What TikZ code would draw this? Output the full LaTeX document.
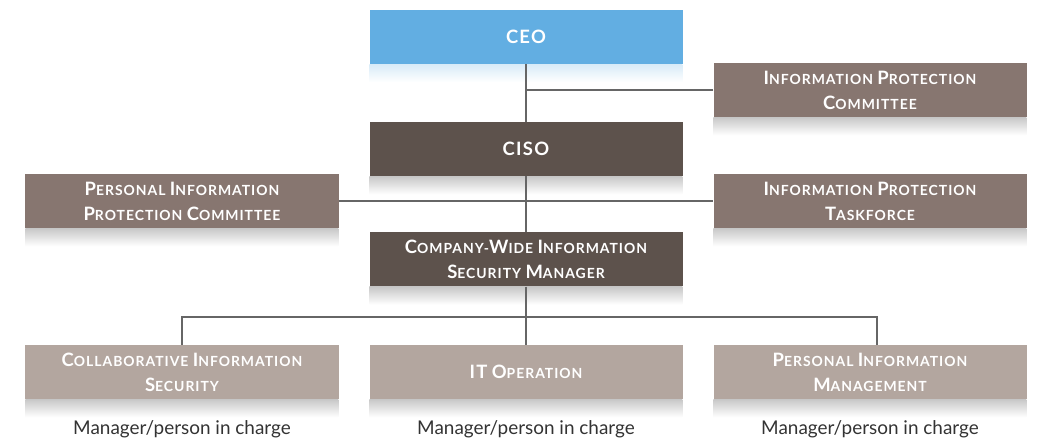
\documentclass[tikz,border=0pt]{standalone}
\usepackage{fontspec}
\setmainfont{Lato}
\usetikzlibrary{positioning}
\definecolor{ceoblue}{HTML}{62AEE2}
\definecolor{darkbrown}{HTML}{5D524C}
\definecolor{midbrown}{HTML}{877670}
\definecolor{lightbrown}{HTML}{B3A69F}
\definecolor{linegray}{HTML}{666666}
% fake small caps: big initial, small rest
\newcommand\scw[2]{{\fontsize{18.5}{25}\selectfont #1}#2}

\tikzset{
  orgbox/.style={rectangle, minimum width=313bp, minimum height=54bp, inner sep=0pt,
    text=white, align=center,
    font=\fontsize{14}{25}\selectfont\bfseries\addfontfeature{LetterSpace=7}},
  note/.style={font=\fontsize{19}{22}\selectfont, text=black!80},
  link/.style={draw=linegray, line width=1.3bp},
}

\begin{document}
\begin{tikzpicture}[x=1bp, y=-1bp]
  \useasboundingbox (0,0) rectangle (1041,440);
  % top level
  \node[orgbox, fill=ceoblue] (ceo) at (526,37) {\scw{CEO}{}};
  \node[orgbox, fill=midbrown] (ipc) at (870,90)
    {\scw{I}{NFORMATION} \scw{P}{ROTECTION}\\\scw{C}{OMMITTEE}};
  \node[orgbox, fill=darkbrown] (ciso) at (526,149) {\scw{CISO}{}};
  % committees beside the CISO line
  \node[orgbox, fill=midbrown] (pipc) at (182,201)
    {\scw{P}{ERSONAL} \scw{I}{NFORMATION}\\\scw{P}{ROTECTION} \scw{C}{OMMITTEE}};
  \node[orgbox, fill=midbrown] (tf) at (870,201)
    {\scw{I}{NFORMATION} \scw{P}{ROTECTION}\\\scw{T}{ASKFORCE}};
  \node[orgbox, fill=darkbrown] (cw) at (526,259.5)
    {\scw{C}{OMPANY}-\scw{W}{IDE} \scw{I}{NFORMATION}\\\scw{S}{ECURITY} \scw{M}{ANAGER}};
  % working units
  \node[orgbox, fill=lightbrown] (cis) at (182,372)
    {\scw{C}{OLLABORATIVE} \scw{I}{NFORMATION}\\\scw{S}{ECURITY}};
  \node[orgbox, fill=lightbrown] (itop) at (526,372) {\scw{IT}{} \scw{O}{PERATION}};
  \node[orgbox, fill=lightbrown] (pim) at (870,372)
    {\scw{P}{ERSONAL} \scw{I}{NFORMATION}\\\scw{M}{ANAGEMENT}};
  % captions
  \node[note] (cisnote) at (182,429) {Manager/person in charge};
  \node[note] (itopnote) at (526,429) {Manager/person in charge};
  \node[note] (pimnote) at (870,429) {Manager/person in charge};
  % soft shadows under the boxes
  \shade[top color=ceoblue!25, bottom color=white] (ceo.south west) rectangle ++(313,18);
  \foreach \n in {ipc,ciso,pipc,tf,cw,cis,itop,pim}
    \shade[top color=black!22, bottom color=white] (\n.south west) rectangle ++(313,18);
  % connectors
  \coordinate (bus) at (526,317);
  \draw[link] (ceo.south) -- (ciso.north);
  \draw[link] (ipc.west) -- (ipc.west -| ceo.south);
  \draw[link] (pipc.east) -- (tf.west);
  \draw[link] (ciso.south) -- (cw.north);
  \draw[link] (cw.south) -- (itop.north);
  \draw[link] (cis.north) |- (bus) -| ([xshift=7bp]pim.north);
\end{tikzpicture}
\end{document}
